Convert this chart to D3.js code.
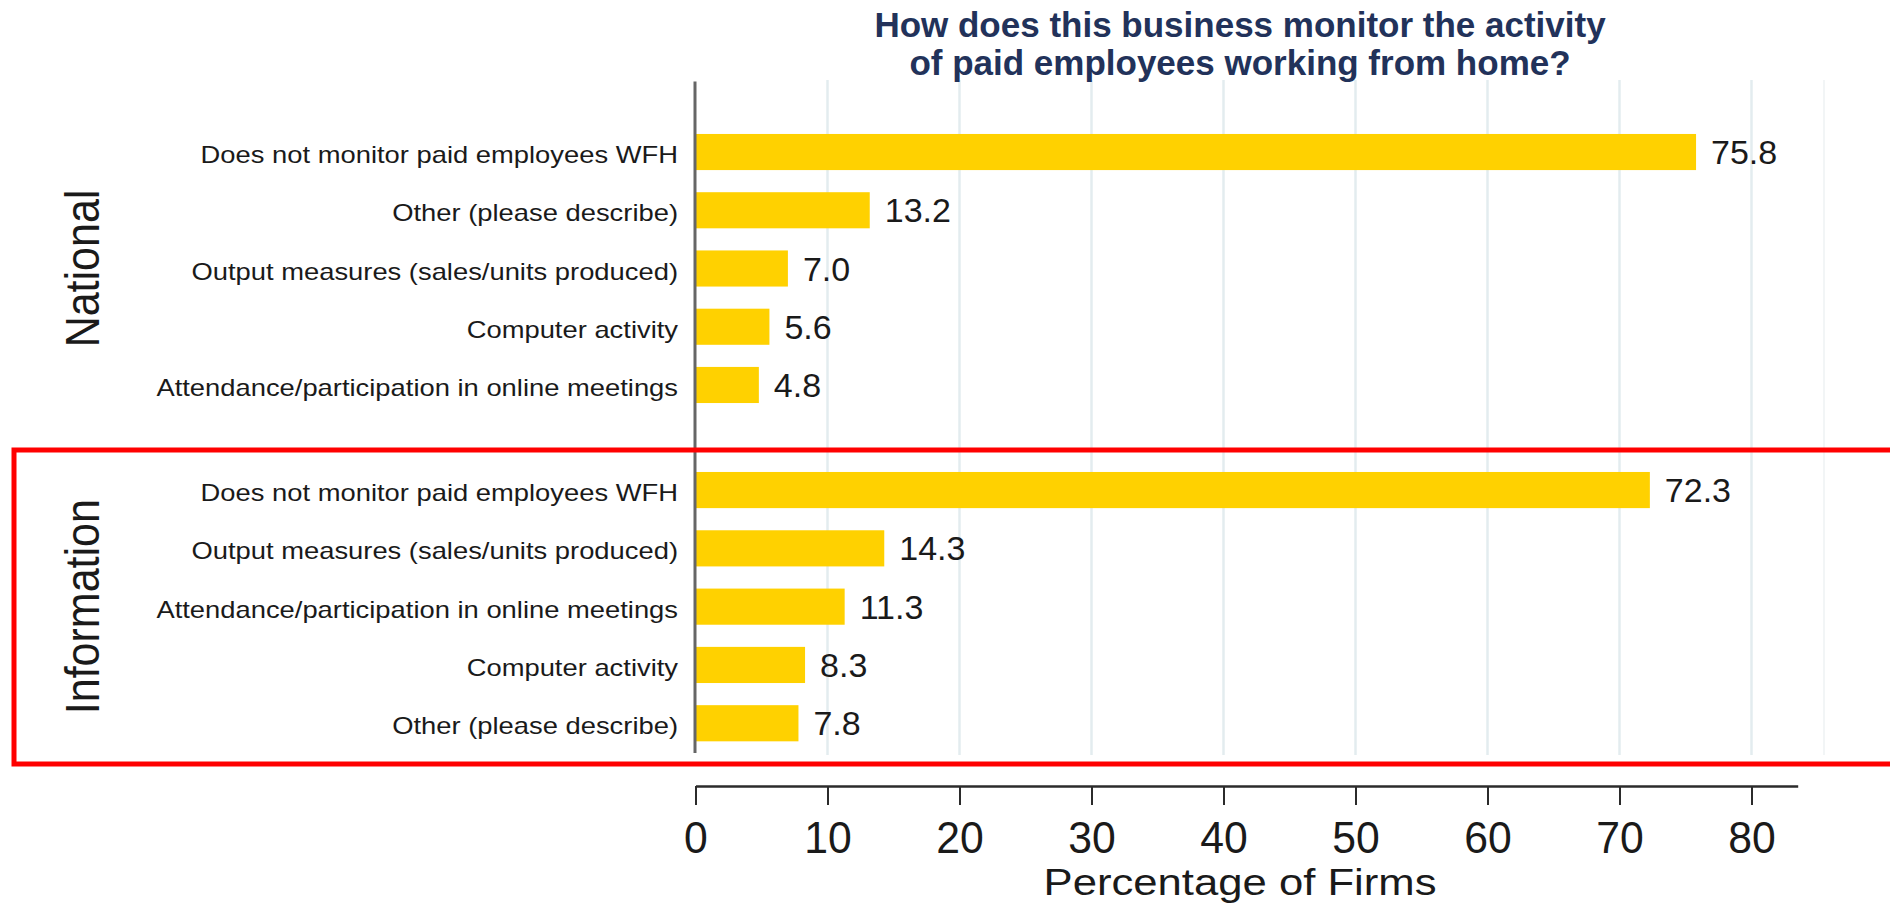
<!DOCTYPE html>
<html>
<head>
<meta charset="utf-8">
<script src="https://cdn.jsdelivr.net/npm/d3@7"></script>
<style>
  html, body { margin: 0; padding: 0; background: #ffffff; }
  svg { display: block; }
  text { font-family: "Liberation Sans", Arial, Helvetica, sans-serif; }
</style>
</head>
<body>
<svg id="chart" width="1890" height="908"></svg>
<script>
// Survey question and answers, one block per group
const titleLines = ["How does this business monitor the activity", "of paid employees working from home?"];
const axisTitle = "Percentage of Firms";
const xTicks = [0, 10, 20, 30, 40, 50, 60, 70, 80];

const nationalLabel = "National";
const nationalCats = [
  "Does not monitor paid employees WFH",
  "Other (please describe)",
  "Output measures (sales/units produced)",
  "Computer activity",
  "Attendance/participation in online meetings"
];
const nationalVals = [75.8, 13.2, 7.0, 5.6, 4.8];

const infoLabel = "Information";
const infoCats = [
  "Does not monitor paid employees WFH",
  "Output measures (sales/units produced)",
  "Attendance/participation in online meetings",
  "Computer activity",
  "Other (please describe)"
];
const infoVals = [72.3, 14.3, 11.3, 8.3, 7.8];

const svg = d3.select("#chart");

const BAR = "#ffd100";
const GRID = "#e3ecef";
const INK = "#1a1a1a";

const x = d3.scaleLinear().domain([0, 83.5]).range([695.5, 1797.7]);
const plotTop = 80, plotBottom = 755, axisY = 786;

const groups = [
  { label: nationalLabel, cats: nationalCats, vals: nationalVals, range: [122.9, 414.1] },
  { label: infoLabel, cats: infoCats, vals: infoVals, range: [460.9, 752.4] }
];
groups.forEach(g => {
  g.y = d3.scaleBand().domain(g.cats).range(g.range).paddingInner(0.38).paddingOuter(0.19);
});

// vertical gridlines
svg.append("g").selectAll("line")
  .data(xTicks.filter(t => t > 0))
  .join("line")
  .attr("x1", d => x(d)).attr("x2", d => x(d))
  .attr("y1", plotTop).attr("y2", plotBottom)
  .attr("stroke", GRID).attr("stroke-width", 2.5);

// faint right edge of the plot region
svg.append("line")
  .attr("x1", 1824).attr("x2", 1824).attr("y1", plotTop).attr("y2", plotBottom)
  .attr("stroke", "#f2f5f6").attr("stroke-width", 2);

// bars, value labels and category labels
groups.forEach(g => {
  const rows = g.cats.map((c, i) => ({ cat: c, val: g.vals[i] }));
  const gg = svg.append("g");

  gg.selectAll("rect").data(rows).join("rect")
    .attr("x", x(0))
    .attr("y", d => g.y(d.cat))
    .attr("width", d => x(d.val) - x(0))
    .attr("height", g.y.bandwidth())
    .attr("fill", BAR);

  gg.selectAll("text.val").data(rows).join("text")
    .attr("class", "val")
    .attr("x", d => x(d.val) + 15)
    .attr("y", d => g.y(d.cat) + g.y.bandwidth() / 2 + 12)
    .attr("font-size", 34)
    .attr("fill", INK)
    .text(d => d.val.toFixed(1));

  gg.selectAll("text.cat").data(rows).join("text")
    .attr("class", "cat")
    .attr("transform", d => `translate(678,${g.y(d.cat) + g.y.bandwidth() / 2 + 11}) scale(1.19,1)`)
    .attr("text-anchor", "end")
    .attr("font-size", 23)
    .attr("fill", INK)
    .text(d => d.cat);

  const mid = (g.range[0] + g.range[1]) / 2;
  svg.append("text")
    .attr("transform", `translate(99,${mid}) scale(1.13,1) rotate(-90)`)
    .attr("text-anchor", "middle")
    .attr("font-size", 43)
    .attr("fill", INK)
    .text(g.label);
});

// y axis line
svg.append("line")
  .attr("x1", 695).attr("x2", 695).attr("y1", 81.5).attr("y2", 753)
  .attr("stroke", "#666666").attr("stroke-width", 3);

// x axis
const xAxis = d3.axisBottom(x).tickValues(xTicks).tickSize(19).tickSizeOuter(0).tickPadding(0);
const ax = svg.append("g").attr("transform", `translate(0,${axisY})`).call(xAxis);
ax.select(".domain").attr("stroke", "#2b2b2b").attr("stroke-width", 2.5);
ax.selectAll(".tick line").attr("stroke", "#2b2b2b").attr("stroke-width", 2);
ax.selectAll(".tick text")
  .attr("y", null).attr("dy", null)
  .attr("transform", "translate(0,67) scale(0.95,1)")
  .attr("font-size", 45)
  .attr("font-family", "'Liberation Sans', Arial, sans-serif")
  .attr("fill", INK);

// axis title
svg.append("text")
  .attr("transform", "translate(1240,895) scale(1.18,1)")
  .attr("text-anchor", "middle")
  .attr("font-size", 37)
  .attr("fill", INK)
  .text(axisTitle);

// chart title
svg.append("g").selectAll("text").data(titleLines).join("text")
  .attr("x", 1240)
  .attr("y", (d, i) => 36.7 + i * 38.3)
  .attr("text-anchor", "middle")
  .attr("font-size", 35)
  .attr("font-weight", "bold")
  .attr("fill", "#22325a")
  .text(d => d);

// highlight frame around the Information block
svg.append("rect")
  .attr("x", 14).attr("y", 450)
  .attr("width", 1900).attr("height", 314)
  .attr("fill", "none")
  .attr("stroke", "#ff0000").attr("stroke-width", 5);
</script>
</body>
</html>
